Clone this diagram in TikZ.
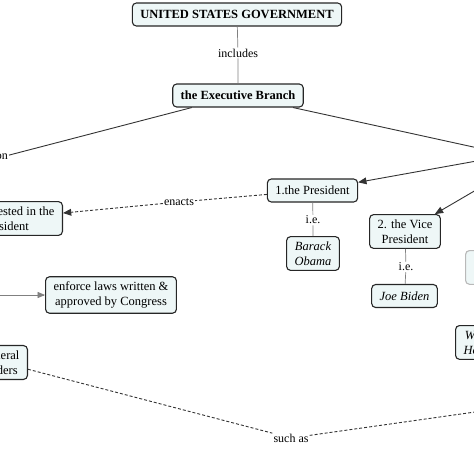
\documentclass[tikz,border=0pt]{standalone}
\usepackage{fontspec}
\setmainfont{Liberation Serif}
\usetikzlibrary{arrows,shapes,calc}

\definecolor{boxfill}{HTML}{EEF7F7}
\definecolor{boxline}{HTML}{262626}
\definecolor{linkline}{HTML}{333333}

\tikzset{
    concept/.style={draw=boxline, line width=1.1pt, fill=boxfill, rounded corners=4pt,
        inner xsep=8pt, inner ysep=5pt, minimum height=23pt, align=center,
        font=\fontsize{12.5}{15}\selectfont},
    headbox/.style={concept, font=\bfseries\fontsize{12.5}{15}\selectfont},
    namebox/.style={concept, font=\itshape\fontsize{12.5}{15}\selectfont},
    faintbox/.style={concept, draw=gray!55},
    phrase/.style={fill=white, inner sep=1pt, font=\fontsize{12}{14}\selectfont},
    link/.style={draw=linkline, line width=0.9pt},
    tie/.style={draw=gray, line width=0.7pt},
    dashlink/.style={link, dash pattern=on 3pt off 2pt},
}

\begin{document}
\begin{tikzpicture}[x=1pt,y=-1pt]
        \useasboundingbox (0,0) rectangle (474,474);
        \clip (0,0) rectangle (474,474);
        % top of the map
        \node [headbox] (usg) at (237,14.5) {UNITED STATES GOVERNMENT};
        \node [headbox] (exec) at (238,95.5) {the Executive Branch};
        \node [phrase] (incl) at (238,53) {includes};
        \node [phrase, anchor=east] (on) at (9,157) {on};
        \node [minimum width=40pt, minimum height=30pt, inner sep=0pt] (parts) at (510,155) {};
        % president and vice president
        \node [concept] (pres) at (312.5,190.5) {1.the President};
        \node [concept] (vp) at (405,231.5) {2. the Vice\\President};
        \node [phrase] (ie1) at (313,220) {i.e.};
        \node [phrase] (ie2) at (406,267) {i.e.};
        \node [namebox] (obama) at (313,253.5) {Barack\\Obama};
        \node [namebox] (biden) at (404.5,296) {Joe Biden};
        \node [faintbox, anchor=north west] (cab) at (465,250) {3. the\\Cabinet};
        \node [namebox, anchor=north west] (staff) at (455,325) {White\\House};
        % left side
        \node [concept, anchor=east] (vested) at (63,218.5) {power vested in the\\President};
        \node [phrase] (enacts) at (179,202) {enacts};
        \node [concept] (enforce) at (111,295) {enforce laws written \&\\approved by Congress};
        \coordinate (enfin) at (-30,295);
        \node [concept, anchor=east] (orders) at (28,362.5) {federal\\orders};
        \node [phrase] (such) at (291,438) {such as};
        \coordinate (suchto) at (560,400);
        % connectors
        \draw [tie] (usg) -- (incl) -- (exec);
        \draw [link] (exec) -- (on);
        \draw [link] (exec) -- (parts);
        \draw [link, -triangle 45] (parts) -- (pres);
        \draw [link, -triangle 45] (parts.south) -- (vp);
        \draw [tie] (pres) -- (ie1) -- (obama);
        \draw [tie] (vp) -- (ie2) -- (biden);
        \draw [dashlink, -triangle 45] (pres) -- (enacts) -- (vested);
        \draw [tie, -triangle 45] (enfin) -- (enforce);
        \draw [dashlink] (orders) -- (such) -- (suchto);
\end{tikzpicture}
\end{document}
